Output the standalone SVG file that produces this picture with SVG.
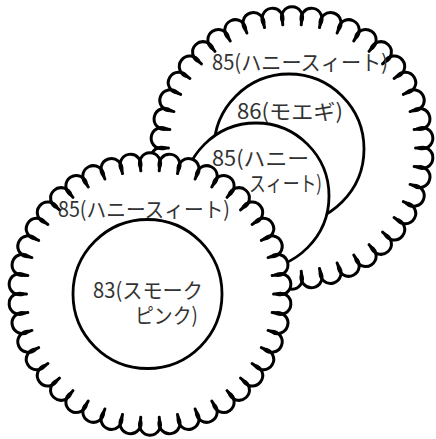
<svg xmlns="http://www.w3.org/2000/svg" xmlns:xlink="http://www.w3.org/1999/xlink" width="436" height="439" viewBox="0 0 436 439">
<style>
.lbl{font-family:"Noto Sans CJK JP","Noto Sans",sans-serif;font-size:21px;fill:#333;}
.ring{fill:#fff;stroke:#000;stroke-width:2.8;}
</style>
<defs>
<path id="sc" d="M -9.23 -123.2 L -9.453 -126.146 A 10.5 10.5 0 1 1 9.453 -126.146"/>
<g id="ring">
<use href="#sc"/>
<use href="#sc" transform="rotate(8.5714)"/>
<use href="#sc" transform="rotate(17.1429)"/>
<use href="#sc" transform="rotate(25.7143)"/>
<use href="#sc" transform="rotate(34.2857)"/>
<use href="#sc" transform="rotate(42.8571)"/>
<use href="#sc" transform="rotate(51.4286)"/>
<use href="#sc" transform="rotate(60)"/>
<use href="#sc" transform="rotate(68.5714)"/>
<use href="#sc" transform="rotate(77.1429)"/>
<use href="#sc" transform="rotate(85.7143)"/>
<use href="#sc" transform="rotate(94.2857)"/>
<use href="#sc" transform="rotate(102.8571)"/>
<use href="#sc" transform="rotate(111.4286)"/>
<use href="#sc" transform="rotate(120)"/>
<use href="#sc" transform="rotate(128.5714)"/>
<use href="#sc" transform="rotate(137.1429)"/>
<use href="#sc" transform="rotate(145.7143)"/>
<use href="#sc" transform="rotate(154.2857)"/>
<use href="#sc" transform="rotate(162.8571)"/>
<use href="#sc" transform="rotate(171.4286)"/>
<use href="#sc" transform="rotate(180)"/>
<use href="#sc" transform="rotate(188.5714)"/>
<use href="#sc" transform="rotate(197.1429)"/>
<use href="#sc" transform="rotate(205.7143)"/>
<use href="#sc" transform="rotate(214.2857)"/>
<use href="#sc" transform="rotate(222.8571)"/>
<use href="#sc" transform="rotate(231.4286)"/>
<use href="#sc" transform="rotate(240)"/>
<use href="#sc" transform="rotate(248.5714)"/>
<use href="#sc" transform="rotate(257.1429)"/>
<use href="#sc" transform="rotate(265.7143)"/>
<use href="#sc" transform="rotate(274.2857)"/>
<use href="#sc" transform="rotate(282.8571)"/>
<use href="#sc" transform="rotate(291.4286)"/>
<use href="#sc" transform="rotate(300)"/>
<use href="#sc" transform="rotate(308.5714)"/>
<use href="#sc" transform="rotate(317.1429)"/>
<use href="#sc" transform="rotate(325.7143)"/>
<use href="#sc" transform="rotate(334.2857)"/>
<use href="#sc" transform="rotate(342.8571)"/>
<use href="#sc" transform="rotate(351.4286)"/>
</g>
<g id="flower">
<circle r="126.5" fill="#fff"/>
<use href="#ring" fill="#fff" stroke="none"/>
<use href="#ring" fill="none" stroke="#000" stroke-width="3" stroke-linecap="round"/>
</g>
</defs>
<rect width="436" height="439" fill="#fff"/>
<g id="back-flower">
<use href="#flower" transform="translate(292,148)"/>
<text class="lbl" x="212" y="70" textLength="176" lengthAdjust="spacingAndGlyphs">85(ハニースィート)</text>
</g>
<g id="circle-86">
<circle class="ring" cx="289" cy="149" r="75"/>
<text class="lbl" x="237" y="119" textLength="106" lengthAdjust="spacingAndGlyphs">86(モエギ)</text>
</g>
<g id="circle-85">
<circle class="ring" cx="256" cy="196" r="73"/>
<text class="lbl" x="212" y="166" textLength="97" lengthAdjust="spacingAndGlyphs">85(ハニー</text>
<text class="lbl" x="249" y="191" textLength="73" lengthAdjust="spacingAndGlyphs">スィート)</text>
</g>
<g id="front-flower">
<use href="#flower" transform="translate(150,294)"/>
<text class="lbl" x="58" y="217" textLength="172" lengthAdjust="spacingAndGlyphs">85(ハニースィート)</text>
</g>
<g id="circle-83">
<circle class="ring" cx="147.5" cy="294" r="74.5"/>
<text class="lbl" x="93" y="298" textLength="110" lengthAdjust="spacingAndGlyphs">83(スモーク</text>
<text class="lbl" x="135" y="323" textLength="63" lengthAdjust="spacingAndGlyphs">ピンク)</text>
</g>
</svg>
